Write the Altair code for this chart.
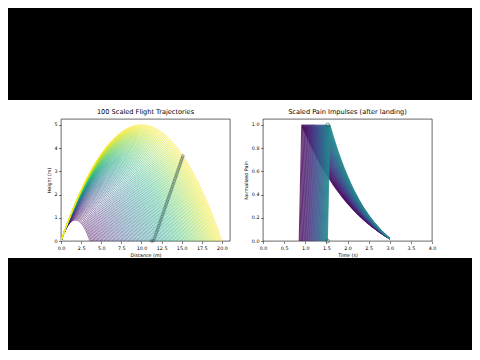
import numpy as np
import pandas as pd
import altair as alt

# ---- values ----
N_TRAJ = [100]
RANGE_MIN_MAX = [3.6, 20.0]        # landing distance of smallest / largest trajectory (m)
GRAVITY = [9.81]
T_NOW = [1.531]                    # current animation time (s)
PAIN_END = [3.0]                   # pain curves end (s)
PAIN_RISE = [0.06]                 # rise duration (s)
PAIN_TAU_FRAC = [0.7]
PAIN_FLOOR = [0.02]
LEFT_XTICKS = [0.0, 2.5, 5.0, 7.5, 10.0, 12.5, 15.0, 17.5, 20.0]
LEFT_YTICKS = [0, 1, 2, 3, 4, 5]
RIGHT_XTICKS = [0.0, 0.5, 1.0, 1.5, 2.0, 2.5, 3.0, 3.5, 4.0]
RIGHT_YTICKS = [0.0, 0.2, 0.4, 0.6, 0.8, 1.0]
PAIN_MARK_Y = [1.0, 0.0]
TITLES = ["100 Scaled Flight Trajectories", "Scaled Pain Impulses (after landing)"]

g = GRAVITY[0]
n = N_TRAJ[0]
ranges = np.linspace(RANGE_MIN_MAX[0], RANGE_MIN_MAX[1], n)
t_now = T_NOW[0]

# trajectories (45 degree launches)
rows = []
for i, R in enumerate(ranges):
    xs = np.linspace(0, R, 50)
    ys = xs * (1 - xs / R)
    for x, y in zip(xs, ys):
        rows.append((i, x, y))
traj = pd.DataFrame(rows, columns=["idx", "x", "y"])

# current positions
mrows = []
for i, R in enumerate(ranges):
    v = np.sqrt(g * R)
    T = np.sqrt(2 * R / g)
    if R < 11.2:
        continue
    if T >= t_now:
        xm = v * t_now / np.sqrt(2)
        ym = xm - 0.5 * g * t_now ** 2
        mrows.append((i, xm, max(ym, 0)))
    else:
        mrows.append((i, R, 0.0))
marks = pd.DataFrame(mrows, columns=["idx", "x", "y"])

# pain impulses for landed trajectories
prow = []
for i, R in enumerate(ranges):
    T = np.sqrt(2 * R / g)
    if T > t_now:
        continue
    peak = T + PAIN_RISE[0]
    prow.append((i, T, 0.0))
    S = PAIN_END[0] - peak
    tau = PAIN_TAU_FRAC[0] * S
    s = np.linspace(0, S, 40)
    val = (np.exp(-s / tau) - np.exp(-S / tau)) / (1 - np.exp(-S / tau))
    val = PAIN_FLOOR[0] + (1 - PAIN_FLOOR[0]) * val
    for ss, vv in zip(s, val):
        prow.append((i, peak + ss, vv))
pain = pd.DataFrame(prow, columns=["idx", "t", "p"])
pmarks = pd.DataFrame({"t": [t_now] * len(PAIN_MARK_Y), "p": PAIN_MARK_Y})

FONT = "DejaVu Sans"
W, H = 169, 122
color = alt.Color("idx:Q", scale=alt.Scale(scheme="viridis", domain=[0, n - 1]), legend=None)
panel_view = alt.ViewBackground(stroke="#000", strokeWidth=0.6)


def ax(values, fmt, title):
    return alt.Axis(values=values, format=fmt, title=title, labelOverlap=False,
                    labelBound=False, labelFlush=False, tickCount=len(values))


xl = alt.X("x:Q", scale=alt.Scale(domain=[0, 21], nice=False, zero=False),
           axis=ax(LEFT_XTICKS, ".1f", "Distance (m)"))
yl = alt.Y("y:Q", scale=alt.Scale(domain=[0, 5.25], nice=False),
           axis=ax(LEFT_YTICKS, "d", "Height (m)"))

left_lines = alt.Chart(traj).mark_line(strokeWidth=0.9, opacity=0.65, clip=True).encode(
    x=xl, y=yl, color=color, detail="idx:N")
left_pts = alt.Chart(marks).mark_point(filled=False, size=7, color="#2f4f4f", opacity=0.8,
                                        strokeWidth=0.5).encode(x="x:Q", y="y:Q")
left = alt.layer(left_lines, left_pts).properties(width=W, height=H, title=TITLES[0], view=panel_view)

xr = alt.X("t:Q", scale=alt.Scale(domain=[0, 4], nice=False),
           axis=ax(RIGHT_XTICKS, ".1f", "Time (s)"))
yr = alt.Y("p:Q", scale=alt.Scale(domain=[0, 1.05], nice=False),
           axis=ax(RIGHT_YTICKS, ".1f", "Normalized Pain"))
right_lines = alt.Chart(pain).mark_line(strokeWidth=1.1, opacity=0.75, clip=True).encode(
    x=xr, y=yr, color=color, detail="idx:N")
right_pts = alt.Chart(pmarks).mark_point(filled=False, size=14, color="#2f4f4f", strokeWidth=0.8,
                                         clip=False).encode(x="t:Q", y="p:Q")
right = alt.layer(right_lines, right_pts).properties(width=W, height=H, title=TITLES[1], view=panel_view)

one = pd.DataFrame({"a": [0]})
nov = alt.ViewBackground(stroke=None, fill="white")


def box(width, height, y0, y1, col):
    return alt.Chart(one).mark_rect(color=col).encode(
        x=alt.value(0), x2=alt.value(width), y=alt.value(y0), y2=alt.value(y1)
    ).properties(width=width, height=height, view=nov)


spacer = box(26, H, 0, H, "white")
middle = alt.hconcat(spacer, left, right, spacing=12)
top = box(464, 101, 0, 92, "black")
bottom = box(464, 92, 0, 92, "black")

chart = alt.vconcat(top, middle, bottom, spacing=0).properties(padding=0).configure(
    background="white", font=FONT
).configure_axis(
    labelFont=FONT, titleFont=FONT, labelFontSize=4.8, titleFontSize=4.8,
    titleFontWeight="normal", labelColor="#000", titleColor="#000",
    tickColor="#000", tickSize=2.5, tickWidth=0.5, labelPadding=1.5, titlePadding=2.5,
    grid=False, domain=False
).configure_title(
    font=FONT, fontSize=6.6, fontWeight="normal", color="#000", offset=3, anchor="middle"
)

chart.save("out.html", embed_options={"renderer": "svg", "actions": False})
